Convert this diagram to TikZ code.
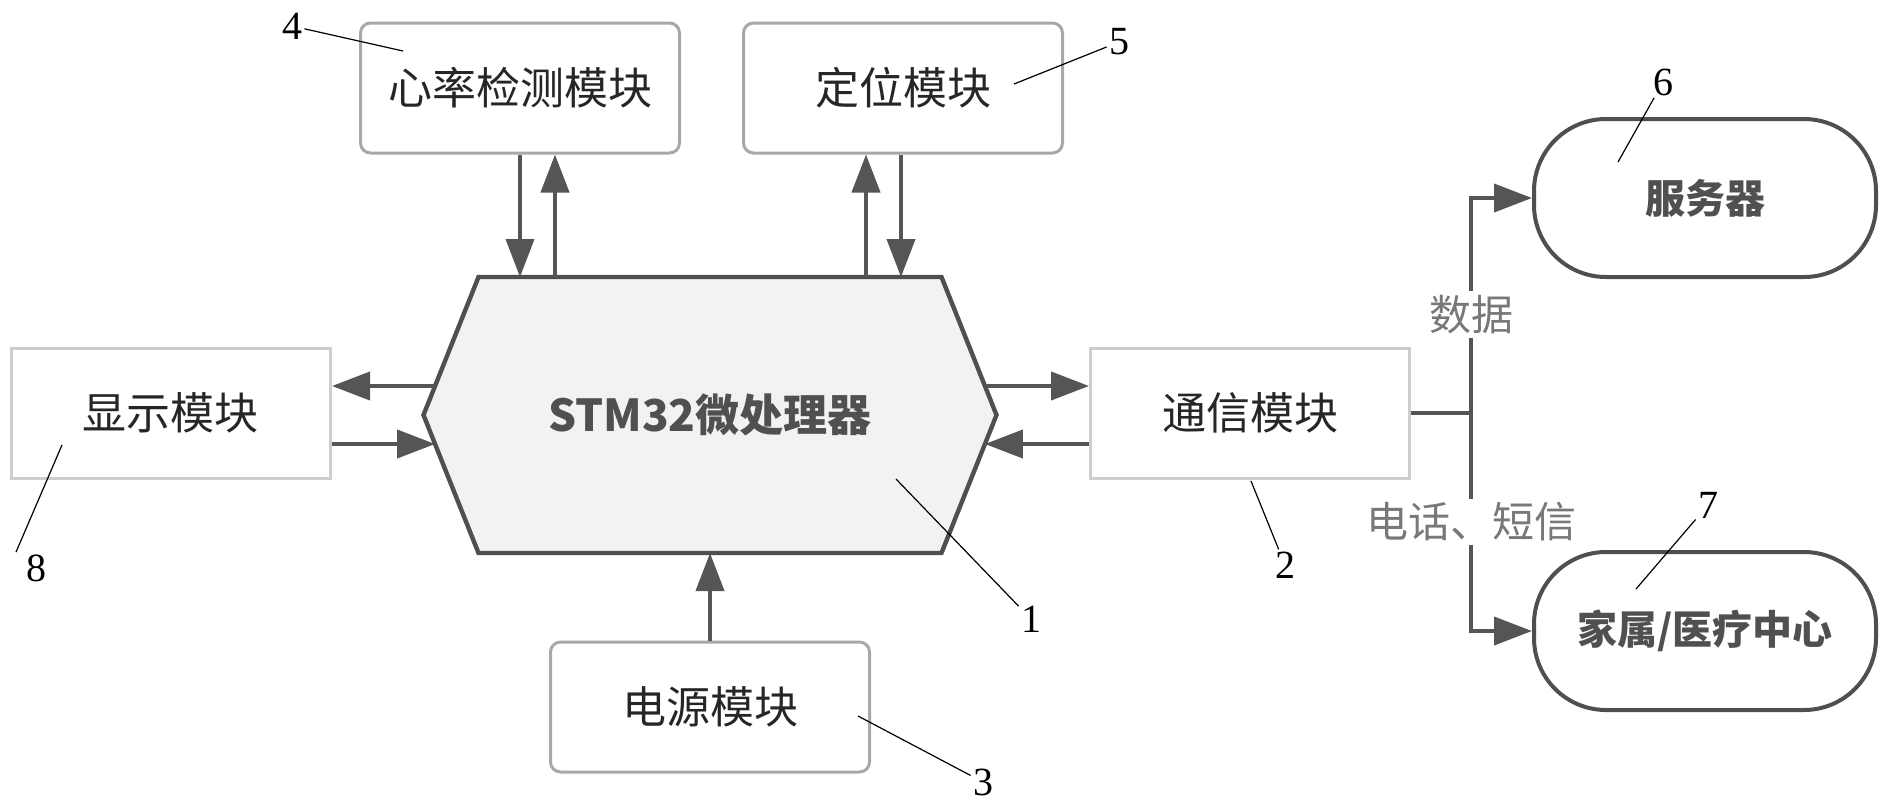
\documentclass[tikz,border=0pt]{standalone}
\usepackage{fontspec}
\setmainfont{Liberation Serif}
\newfontfamily\cjk{Noto Sans CJK SC}
\usepackage{tikz}
\usetikzlibrary{positioning, arrows.meta, backgrounds}
\usepackage{xcolor}
\definecolor{arrowgray}{HTML}{555555}
\definecolor{hexfill}{HTML}{F2F2F2}
\definecolor{hexgray}{HTML}{4F4F4F}
\definecolor{boxgray}{HTML}{A8A8A8}
\definecolor{flatgray}{HTML}{CDCDCD}
\definecolor{labgray}{HTML}{787878}
\definecolor{textgray}{HTML}{505050}

\begin{document}
\begin{tikzpicture}[x=0.5pt, y=-0.5pt,
                  modbox/.style={draw=boxgray, line width=1.5pt, rounded corners=5pt, fill=white,
                              font=\cjk\fontsize{22}{26}\selectfont, text=black!85,
                              minimum width=159.5pt, minimum height=65pt, inner sep=0pt},
                  flatbox/.style={modbox, draw=flatgray, sharp corners},
                  endbox/.style={draw=hexgray, line width=2pt, rounded corners=36pt, fill=white,
                              font=\cjk\bfseries\fontsize{20}{24}\selectfont, text=textgray,
                              minimum width=171pt, minimum height=79pt, inner sep=0pt},
                  cpubox/.style={minimum width=286.5pt, minimum height=138pt, inner sep=0pt, outer sep=0pt,
                              font=\cjk\bfseries\fontsize{22}{26}\selectfont, text=textgray},
                  hexline/.style={draw=hexgray, fill=hexfill, line width=2.2pt, line join=miter},
                  flow/.style={draw=arrowgray, line width=2pt, -{Triangle[length=19pt, width=14pt]}},
                  wire/.style={draw=arrowgray, line width=2pt},
                  tag/.style={fill=white, text=labgray, inner sep=2pt,
                              font=\cjk\fontsize{21}{24}\selectfont},
                  num/.style={inner sep=1pt, font=\fontsize{20}{24}\selectfont},
                  leader/.style={line width=0.6pt},
            ]
            \useasboundingbox (0,0) rectangle (1886,811);

            % ---- modules ----
            \node[modbox]  (heart)   at (520,88)  {心率检测模块};
            \node[modbox]  (locate)  at (903,88)  {定位模块};
            \node[flatbox] (display) at (171,413) {显示模块};
            \node[flatbox] (comm)    at (1250,413) {通信模块};
            \node[modbox]  (power)   at (710,707) {电源模块};
            \node[cpubox]  (cpu)     at (710,415) {STM32微处理器};

            % ---- receivers ----
            \node[endbox] (server) at (1705,198) {服务器};
            \node[endbox] (family) at (1705,631) {家属/医疗中心};

            % ---- hexagon behind the processor ----
            \begin{scope}[on background layer]
                  \draw[hexline] (cpu.west) -- ([xshift=27.5pt]cpu.north west)
                  -- ([xshift=-27.5pt]cpu.north east) -- (cpu.east)
                  -- ([xshift=-27.5pt]cpu.south east) -- ([xshift=27.5pt]cpu.south west) -- cycle;
            \end{scope}

            % ---- links to the processor ----
            \draw[flow] (heart.south) -- (heart.south |- cpu.north);
            \draw[flow] ([xshift=17.5pt]heart.south |- cpu.north) -- ([xshift=17.5pt]heart.south);
            \draw[flow] ([xshift=-1pt]locate.south) -- ([xshift=-1pt]locate.south |- cpu.north);
            \draw[flow] ([xshift=-18.5pt]locate.south |- cpu.north) -- ([xshift=-18.5pt]locate.south);
            \draw[flow] ([shift={(5.8pt,14.5pt)}]cpu.west) -- ([yshift=14.5pt]cpu.west -| display.east);
            \draw[flow] ([yshift=-14.5pt]cpu.west -| display.east) -- ([shift={(5.8pt,-14.5pt)}]cpu.west);
            \draw[flow] ([shift={(-5.8pt,14.5pt)}]cpu.east) -- ([yshift=14.5pt]cpu.east -| comm.west);
            \draw[flow] ([yshift=-14.5pt]cpu.east -| comm.west) -- ([shift={(-5.8pt,-14.5pt)}]cpu.east);
            \draw[flow] (power.north) -- (cpu.south);

            % ---- branch out of the comm module ----
            \coordinate (split) at ([xshift=30pt]comm.east);
            \draw[wire] (comm.east) -- (split);
            \draw[flow] (split) |- (server.west) node[pos=0.23, tag] {数据};
            \draw[flow] (split) |- (family.west) node[pos=0.25, tag] {电话、短信};

            % ---- part numbers ----
            \foreach \n/\x/\y in {1/1031/619, 2/1285/565, 3/983/782, 4/292/26,
                        5/1119/42, 6/1663/82, 7/1708/505, 8/36/568}{
                        \node[num] (n\n) at (\x,\y) {\n};
                  }
            \foreach \n/\x/\y in {1/896/479, 2/1251/481, 3/858/716, 4/403/51,
                        5/1014/84, 6/1618/162, 7/1636/589, 8/62/445}{
                        \coordinate (p\n) at (\x,\y);
                  }
            \foreach \n in {1,...,7}{
                        \draw[leader] (n\n) -- (p\n);
                  }
            \draw[leader] ([xshift=-10pt]n8.north) -- (p8);

      \end{tikzpicture}
\end{document}
